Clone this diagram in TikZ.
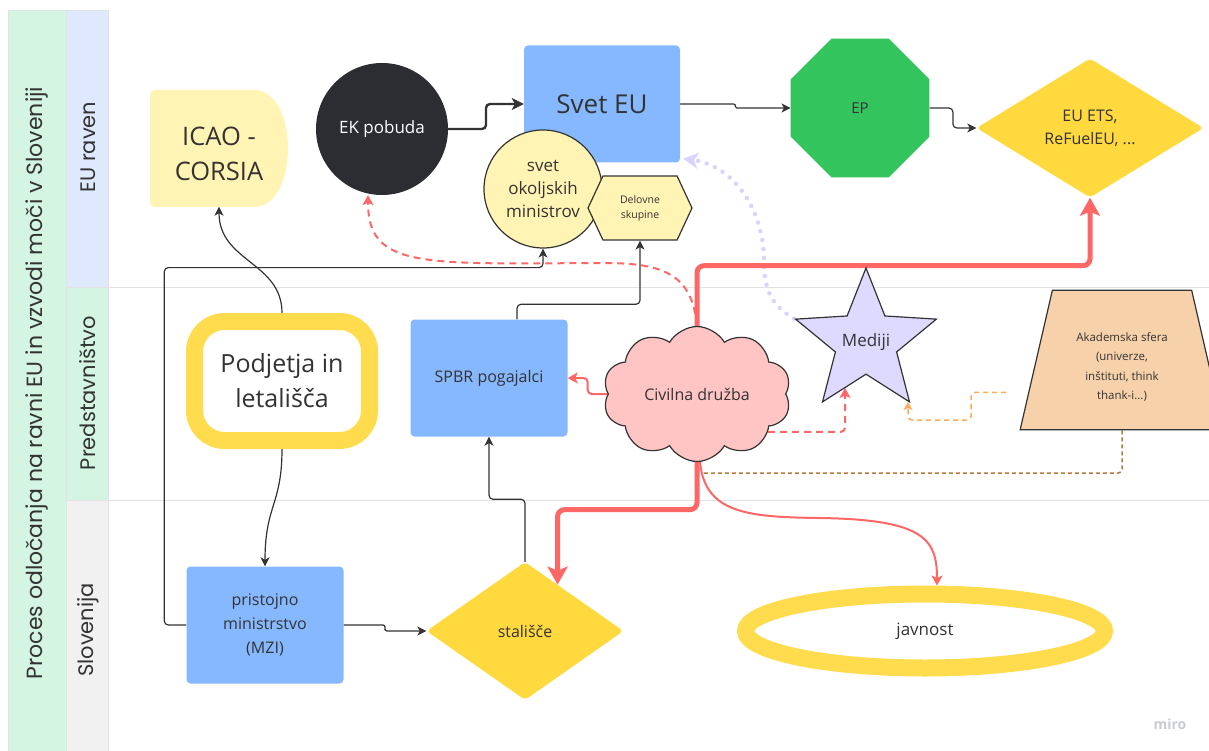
\documentclass[tikz,border=0pt]{standalone}
\usepackage{fontspec}
\setmainfont{Open Sans}
\newfontfamily\lanefont{Poppins}
\usetikzlibrary{shapes.geometric,shapes.symbols,arrows.meta,calc}
\pgfdeclarelayer{lanes}
\pgfdeclarelayer{edges}
\pgfsetlayers{lanes,edges,main}

\definecolor{ink}{HTML}{333333}
\definecolor{mint}{HTML}{D5F5E3}
\definecolor{paleblue}{HTML}{DFE9FD}
\definecolor{palegray}{HTML}{F1F1F1}
\definecolor{divider}{HTML}{E2E2E2}
\definecolor{boxblue}{HTML}{86B8FF}
\definecolor{paleyellow}{HTML}{FFF4B3}
\definecolor{sunyellow}{HTML}{FFD93D}
\definecolor{ringyellow}{HTML}{FFDC4E}
\definecolor{epgreen}{HTML}{33C45E}
\definecolor{ekblack}{HTML}{2C2D33}
\definecolor{cloudpink}{HTML}{FFC4C4}
\definecolor{starlilac}{HTML}{DEDAFF}
\definecolor{peach}{HTML}{F6D1A9}
\definecolor{alarm}{HTML}{FF6666}
\definecolor{apricot}{HTML}{FFAA55}
\definecolor{bronze}{HTML}{B37A40}
\definecolor{lilacdot}{HTML}{D8D4FF}
\definecolor{watermark}{HTML}{C9C9D6}

\begin{document}
\begin{tikzpicture}[x=1pt,y=-1pt,
   every node/.style={text=ink,align=center,inner sep=2pt},
   lane/.style={font=\lanefont\fontsize{21}{25}\selectfont,rotate=90},
   bluebox/.style={fill=boxblue,rounded corners=4pt,minimum width=157pt,minimum height=117pt,font=\fontsize{16}{24}\selectfont},
   ekball/.style={circle,fill=ekblack,minimum size=132pt,text=white,font=\fontsize{17}{22}\selectfont},
   council/.style={circle,fill=paleyellow,draw=ink,line width=1.2pt,minimum size=118pt,font=\fontsize{17}{23}\selectfont},
   hexa/.style={signal,signal to=east and west,signal pointer angle=130,fill=paleyellow,draw=ink,line width=1.2pt,minimum width=104pt,minimum height=64pt,font=\fontsize{10.5}{15}\selectfont},
   octa/.style={regular polygon,regular polygon sides=8,minimum size=150pt,fill=epgreen,font=\fontsize{15}{18}\selectfont},
   gem/.style={diamond,fill=sunyellow,rounded corners=4pt,font=\fontsize{16}{23}\selectfont},
   ring/.style={draw=ringyellow,line width=17pt,fill=white},
   puff/.style={cloud,cloud puffs=10,cloud puff arc=120,aspect=1.4,fill=cloudpink,draw=ink,line width=1.2pt,minimum width=188pt,minimum height=135pt,font=\fontsize{16}{22}\selectfont},
   spark/.style={star,star points=5,star point ratio=2.3,minimum size=148pt,fill=starlilac,draw=ink,line width=1.2pt},
   desk/.style={trapezium,trapezium left angle=77,trapezium right angle=77,fill=peach,draw=ink,line width=1.2pt,minimum width=204pt,minimum height=120pt},
   flow/.style={draw=ink,line width=1.2pt,rounded corners=4pt,-{Stealth[length=9pt,width=9pt,inset=2.5pt]}},
   heavy/.style={draw=alarm,line width=5pt,rounded corners=7pt,-{Stealth[length=18pt,width=20pt,inset=4pt]}},
   thinred/.style={draw=alarm,line width=2pt,rounded corners=4pt,-{Stealth[length=10pt,width=11pt,inset=2.5pt]}},
   reddash/.style={thinred,dash pattern=on 7pt off 5pt},
   amberdash/.style={draw=apricot,line width=1.5pt,rounded corners=4pt,dash pattern=on 5pt off 4pt,-{Stealth[length=8pt,width=9pt,inset=2pt]}},
   bronzedash/.style={draw=bronze,line width=1.5pt,rounded corners=4pt,dash pattern=on 4pt off 3pt},
   mediadots/.style={draw=lilacdot,line width=4.5pt,line cap=round,dash pattern=on 0pt off 9pt,-{Stealth[length=15pt,width=16pt,inset=4pt]}}]
\useasboundingbox (0,0) rectangle (1209,751);

% swimlanes
\begin{pgfonlayer}{lanes}
\fill[mint] (8,10) rectangle (66,751);
\fill[paleblue] (66,10) rectangle (108,287);
\fill[mint] (66,287) rectangle (108,500);
\fill[palegray] (66,500) rectangle (108,751);
\draw[divider] (8,751) |- (108,10) -- (108,751) (66,10) -- (66,751);
\draw[divider] (66,287) -- (1209,287) (66,500) -- (1209,500);
\end{pgfonlayer}
\node[lane,font=\lanefont\fontsize{22}{26}\selectfont] (proces) at (37,383) {Proces odločanja na ravni EU in vzvodi moči v Sloveniji};
\node[lane] (euraven) at (88,147) {EU raven};
\node[lane] (predst) at (88,393) {Predstavništvo};
\node[lane] (slo) at (88,630) {Slovenija};

% EU level
\fill[paleyellow] (156,90) -- (254,90) .. controls (276,90) and (288,118) .. (288,148.5)
   .. controls (288,179) and (276,207) .. (254,207) -- (156,207) .. controls (152,207) and (150,205) .. (150,201)
   -- (150,96) .. controls (150,92) and (152,90) .. (156,90) -- cycle;
\node[minimum width=138pt,minimum height=105pt,font=\fontsize{25.5}{35}\selectfont] (icao) at (219,154) {ICAO -\\CORSIA};
\node[ekball] (ek) at (382,129) {EK pobuda};
\node[bluebox,minimum width=156pt,font=\fontsize{26}{30}\selectfont] (svet) at (602,104) {Svet EU};
\node[council] (okolje) at (543,189) {svet\\okoljskih\\ministrov};
\node[hexa] (delovne) at (640,208) {Delovne\\skupine};
\node[octa] (ep) at (860,108) {EP};
\node[gem,minimum width=227pt,minimum height=139pt] (ets) at (1090,128) {EU ETS,\\ReFuelEU, ...};

% representation
\node[ring,rounded corners=30pt,minimum width=175pt,minimum height=119pt,font=\fontsize{25}{35}\selectfont] (podjetja) at (282,381) {Podjetja in\\letališča};
\node[bluebox] (spbr) at (489,378) {SPBR pogajalci};
\node[puff] (civ) at (697,394) {Civilna družba};
\node[spark,label={[font=\fontsize{17}{22}\selectfont]center:Mediji}] (mediji) at (866,342) {};
\node[desk,label={[font=\fontsize{11.5}{19.5}\selectfont,yshift=-7pt]center:{Akademska sfera\\(univerze,\\inštituti, think\\thank-i...)}}] (akad) at (1122,360) {};

% Slovenia
\node[bluebox] (mzi) at (265,625) {pristojno\\ministrstvo\\(MZI)};
\node[gem,minimum width=197pt,minimum height=138pt] (stal) at (525,631) {stališče};
\node[ring,ellipse,minimum width=359pt,minimum height=74pt,font=\fontsize{17}{22}\selectfont] (javnost) at (925,631) {javnost};
\node[text=watermark,font=\bfseries\fontsize{14}{16}\selectfont] (brand) at (1170,724) {miro};

\begin{pgfonlayer}{edges}
\draw[mediadots] (mediji.outer point 2) .. controls (772,306) and (764,290) .. (764,262)
   .. controls (764,205) and (730,165) .. ([shift={(3,-4)}]svet.south east);
\draw[reddash] (civ.north) .. controls (692,275) and (665,263) .. (600,263)
   .. controls (420,264) and (368,268) .. ([xshift=-14pt]ek.south);
\draw[heavy] (civ.north) |- ($(ets.south)+(0,68)$) -- (ets.south);
\draw[heavy] (civ.south) |- ($(stal.north)!.33!(stal.east)+(0,-75)$) -- ($(stal.north)!.33!(stal.east)$);
\draw[thinred] ([xshift=3pt]civ.south) .. controls (705,512) and (745,517) .. (820,518)
   .. controls (925,520) and (937,540) .. ([xshift=12pt]javnost.north);
\draw[thinred] (civ.west) -| ($(civ.west)!.5!(spbr.east)$) |- (spbr.east);
\draw[reddash] (civ.-28) -| ($(mediji.center)+(-21,46)$);
\draw[amberdash,shorten <=22pt] ($(akad.top left corner)!.73!(akad.bottom left corner)$) -- ++(-57,0)
   |- ($(mediji.center)+(42,78)$) -- ($(mediji.center)+(42,60)$);
\draw[bronzedash] (akad.south) |- ($(civ.south)+(5,11)$);

\draw[flow,line width=2.4pt,-{Stealth[length=12pt,width=12pt,inset=3pt]}] (ek.east) -| ($(ek.east)!.5!(svet.west)$) |- (svet.west);
\draw[flow,rounded corners=1.5pt] (svet.east) -| ($(svet.east)!.5!(ep.west)$) |- (ep.west);
\draw[flow] (ep.east) -| ($(ep.east)!.5!(ets.west)$) |- (ets.west);
\draw[flow] (podjetja.north) .. controls (282,262) and (219,262) .. (icao.south);
\draw[flow] (podjetja.south) .. controls (282,505) and (265,505) .. (mzi.north);
\draw[flow] (mzi.west) -- ++(-22,0) |- ($(okolje.south)+(0,19)$) -- (okolje.south);
\draw[flow,rounded corners=2pt] (mzi.east) -| ($(mzi.east)!.5!(stal.west)$) |- (stal.west);
\draw[flow] (stal.north) |- ($(stal.north)!.5!(spbr.south)$) -| (spbr.south);
\draw[flow] ([xshift=28pt]spbr.north) -- ++(0,-15) -| (delovne.south);
\end{pgfonlayer}
\end{tikzpicture}
\end{document}
